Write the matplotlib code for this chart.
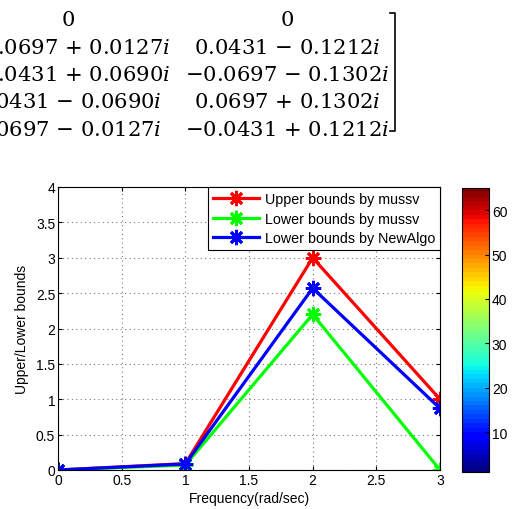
import numpy as np
import matplotlib
matplotlib.use("Agg")
import matplotlib.pyplot as plt
from matplotlib.ticker import FormatStrFormatter
from matplotlib.cm import ScalarMappable
from matplotlib.colors import Normalize

# matrix rows shown above the chart (column 1 / column 2)
col1 = ["0", "−0.0697 + 0.0127i", "−0.0431 + 0.0690i", "0.0431 − 0.0690i", "0.0697 − 0.0127i"]
col2 = ["0", "0.0431 − 0.1212i", "−0.0697 − 0.1302i", "0.0697 + 0.1302i", "−0.0431 + 0.1212i"]

# bounds data
freq = [0, 1, 2, 3]
upper_mussv = [0, 0.09, 3.0, 1.0]
lower_mussv = [0, 0.07, 2.2, 0.0]
lower_newalgo = [0, 0.085, 2.57, 0.87]

cbar_ticks = [10, 20, 30, 40, 50, 60]

plt.rcParams['font.family'] = ['Liberation Sans', 'DejaVu Sans']
plt.rcParams['mathtext.fontset'] = 'dejavuserif'

W, H = 515, 510
fig = plt.figure(figsize=(5.15, 5.10), dpi=100)

# matrix text (left part is cut off by the page edge, like in the source)
def mtx(s):
    if s.endswith("i"):
        return s[:-1] + r"$i$"
    return s

baselines = [26, 53.5, 81, 108.5, 136]
for y, a, b in zip(baselines, col1, col2):
    fig.text(68 / W, 1 - y / H, mtx(a), ha='center', va='baseline', fontsize=15.2, family='DejaVu Serif')
    fig.text(287 / W, 1 - y / H, mtx(b), ha='center', va='baseline', fontsize=15.2, family='DejaVu Serif')

# closing bracket
fig.add_artist(plt.Line2D([390 / W, 395 / W, 395 / W, 390 / W],
                          [1 - 14 / H, 1 - 14 / H, 1 - 132 / H, 1 - 132 / H],
                          color='black', lw=1.2))

# main axes
ax = fig.add_axes([58 / W, 1 - 471 / H, (440 - 58) / W, (471 - 188) / H])
star = (8, 2, 0)
ax.plot(freq, upper_mussv, color='red', lw=2.3, marker=star, ms=11, mew=2, label='Upper bounds by mussv')
ax.plot(freq, lower_mussv, color='#00ff00', lw=2.3, marker=star, ms=11, mew=2, label='Lower bounds by mussv')
ax.plot(freq, lower_newalgo, color='blue', lw=2.3, marker=star, ms=11, mew=2, label='Lower bounds by NewAlgo')

ax.set_xlim(0, 3)
ax.set_ylim(0, 4)
ax.set_xticks(np.arange(0, 3.01, 0.5))
ax.set_yticks(np.arange(0, 4.01, 0.5))
ax.xaxis.set_major_formatter(FormatStrFormatter('%g'))
ax.yaxis.set_major_formatter(FormatStrFormatter('%g'))
ax.tick_params(direction='in', length=3, labelsize=10, top=True, right=True, pad=2)
ax.grid(True, linestyle=(0, (1, 3)), color='#777777', lw=0.8)
for sp in ax.spines.values():
    sp.set_linewidth(0.8)
ax.set_xlabel('Frequency(rad/sec)', fontsize=10, labelpad=3)
ax.set_ylabel('Upper/Lower bounds', fontsize=10, labelpad=5)

leg = ax.legend(loc='upper right', fontsize=10.3, handlelength=3.2, borderaxespad=0,
                fancybox=False, framealpha=1, edgecolor='black', borderpad=0.35,
                labelspacing=0.4, handletextpad=0.4)
leg.get_frame().set_linewidth(0.8)

# colorbar
cax = fig.add_axes([462 / W, 1 - 473 / H, (489 - 462) / W, (473 - 189) / H])
sm = ScalarMappable(norm=Normalize(1, 65), cmap=plt.get_cmap('jet', 64))
cb = fig.colorbar(sm, cax=cax, ticks=cbar_ticks)
cb.outline.set_linewidth(0.8)
cax.tick_params(direction='in', length=3, labelsize=10, pad=2)

fig.savefig('out.png', dpi=100)
